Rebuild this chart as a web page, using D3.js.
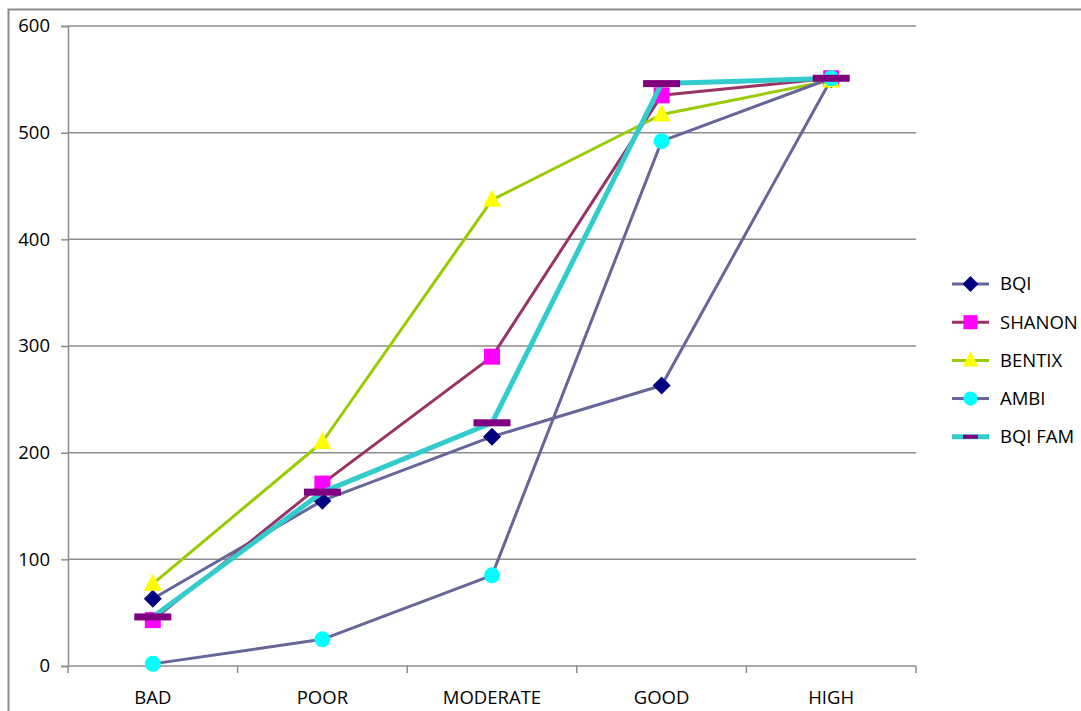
<!DOCTYPE html>
<html>
<head>
<meta charset="utf-8">
<script src="https://cdn.jsdelivr.net/npm/d3@7"></script>
<style>
  html, body { margin: 0; padding: 0; background: #fff; }
  svg { display: block; }
  text { font-family: "Open Sans", "Noto Sans", sans-serif; fill: #000; }
</style>
</head>
<body>
<svg id="chart" width="1081" height="711"></svg>
<script>
// Quality classes along the x axis
const categories = ["BAD", "POOR", "MODERATE", "GOOD", "HIGH"];

// Values per index for each quality class
const bqi     = [63, 155, 215, 263, 550];
const shanon  = [43, 171, 290, 535, 551];
const bentix  = [77, 210, 437, 517, 549];
const ambi    = [2, 25, 85, 492, 551];
const bqiFam  = [46, 163, 228, 546, 551];

const yTicks = [0, 100, 200, 300, 400, 500, 600];

const series = [
  { name: "BQI",     values: bqi,    line: "#666699", fill: "#000080", marker: "diamond",  width: 3 },
  { name: "SHANON",  values: shanon, line: "#993366", fill: "#FF00FF", marker: "square",   width: 3 },
  { name: "BENTIX",  values: bentix, line: "#99CC00", fill: "#FFFF00", marker: "triangle", width: 3 },
  { name: "AMBI",    values: ambi,   line: "#666699", fill: "#00FFFF", marker: "circle",   width: 3 },
  { name: "BQI FAM", values: bqiFam, line: "#33CCCC", fill: "#800080", marker: "dash",     width: 5 }
];

const FONT = 18.5;
const svg = d3.select("#chart");
const plot = { left: 68, right: 916, top: 26, bottom: 666 };

// Outer chart frame (runs off the right and bottom edges)
svg.append("rect")
  .attr("x", 8.5).attr("y", 9.5)
  .attr("width", 1100).attr("height", 720)
  .attr("fill", "none").attr("stroke", "#8c8c8c").attr("stroke-width", 2);

const x = d3.scaleBand().domain(categories).range([plot.left, plot.right]).padding(0);
const y = d3.scaleLinear().domain([0, 600]).range([plot.bottom, plot.top]);
const cx = c => x(c) + x.bandwidth() / 2;

// Horizontal gridlines
svg.append("g").selectAll("line").data(yTicks.filter(t => t > 0)).join("line")
  .attr("x1", plot.left).attr("x2", plot.right)
  .attr("y1", d => y(d)).attr("y2", d => y(d))
  .attr("stroke", "#8c8c8c").attr("stroke-width", 1.5);

// Y axis
const yAxis = svg.append("g").attr("transform", `translate(${plot.left},0)`)
  .call(d3.axisLeft(y).tickValues(yTicks).tickSize(7).tickPadding(11).tickFormat(d3.format("d")));
yAxis.attr("font-size", null).attr("font-family", null);
yAxis.select(".domain").attr("stroke", "#8c8c8c").attr("stroke-width", 1.5);
yAxis.selectAll(".tick line").attr("stroke", "#8c8c8c").attr("stroke-width", 1.5);
yAxis.selectAll(".tick text").style("font-size", FONT + "px").attr("fill", "#000");

// X axis with ticks at category boundaries
const xAxisG = svg.append("g");
xAxisG.append("line")
  .attr("x1", plot.left).attr("x2", plot.right)
  .attr("y1", plot.bottom).attr("y2", plot.bottom)
  .attr("stroke", "#8c8c8c").attr("stroke-width", 1.5);
const boundaries = categories.map(c => x(c)).concat([x(categories[categories.length - 1]) + x.bandwidth()]);
xAxisG.selectAll("line.tk").data(boundaries).join("line").attr("class", "tk")
  .attr("x1", d => d).attr("x2", d => d)
  .attr("y1", plot.bottom).attr("y2", plot.bottom + 7)
  .attr("stroke", "#8c8c8c").attr("stroke-width", 1.5);
xAxisG.selectAll("text").data(categories).join("text")
  .attr("x", d => cx(d)).attr("y", 704)
  .attr("text-anchor", "middle").style("font-size", FONT + "px")
  .text(d => d);

// Marker drawing
function drawMarker(g, type, fill) {
  if (type === "diamond") {
    g.append("path").attr("d", "M0,-9L9,0L0,9L-9,0Z").attr("fill", fill);
  } else if (type === "square") {
    g.append("rect").attr("x", -8).attr("y", -8).attr("width", 16).attr("height", 16).attr("fill", fill);
  } else if (type === "triangle") {
    g.append("path").attr("d", "M0,-10L9,7L-9,7Z").attr("fill", fill);
  } else if (type === "circle") {
    g.append("circle").attr("r", 8).attr("fill", fill);
  } else if (type === "dash") {
    g.append("rect").attr("x", -18.5).attr("y", -3.5).attr("width", 37).attr("height", 7).attr("fill", fill);
  }
}

const line = d3.line().x((d, i) => cx(categories[i])).y(d => y(d));

series.forEach(s => {
  const g = svg.append("g");
  g.append("path").datum(s.values)
    .attr("d", line)
    .attr("fill", "none").attr("stroke", s.line).attr("stroke-width", s.width)
    .attr("stroke-linejoin", "round");
  s.values.forEach((v, i) => {
    const m = g.append("g").attr("transform", `translate(${cx(categories[i])},${y(v)})`);
    drawMarker(m, s.marker, s.fill);
  });
});

// Legend
const legend = svg.append("g");
series.forEach((s, i) => {
  const ly = 284 + i * 38.2;
  const row = legend.append("g").attr("transform", `translate(0,${ly})`);
  row.append("line").attr("x1", 952).attr("x2", 989).attr("y1", 0).attr("y2", 0)
    .attr("stroke", s.line).attr("stroke-width", s.width === 5 ? 5 : 3);
  const m = row.append("g").attr("transform", `translate(970.5,0)`);
  if (s.marker === "dash") {
    m.append("rect").attr("x", -7.5).attr("y", -2).attr("width", 15).attr("height", 4).attr("fill", s.fill);
  } else {
    const mg = m.append("g").attr("transform", "scale(0.88)");
    drawMarker(mg, s.marker, s.fill);
  }
  row.append("text").attr("x", 1000).attr("y", 0).attr("dy", "0.35em")
    .style("font-size", FONT + "px").text(s.name);
});
</script>
</body>
</html>
